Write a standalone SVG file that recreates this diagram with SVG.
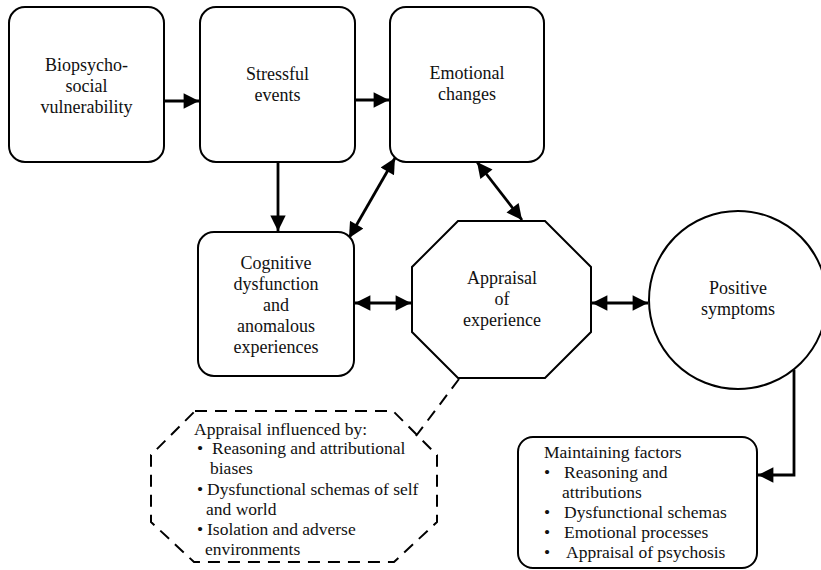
<svg xmlns="http://www.w3.org/2000/svg" width="821" height="570" viewBox="0 0 821 570">
<style>
.t{font-size:18px;text-anchor:middle;fill:#111}
.l{font-size:17.5px;fill:#111}
.n{fill:#fff;stroke:#000;stroke-width:2}
.c{fill:none;stroke:#000;stroke-width:2.8}
.d{fill:none;stroke:#000;stroke-width:2;stroke-dasharray:12,8}
</style>
<defs>
<marker id="ah" viewBox="0 0 10 10" refX="10" refY="5" markerWidth="5.8" markerHeight="5.5" orient="auto-start-reverse" markerUnits="strokeWidth">
<path d="M0,0 L10,5 L0,10 Z" fill="#000"/>
</marker>
</defs>
<rect width="821" height="570" fill="#fff"/>
<g id="connectors">
<line class="c" x1="164" y1="101" x2="199" y2="101" marker-end="url(#ah)"/>
<line class="c" x1="355" y1="100" x2="389" y2="100" marker-end="url(#ah)"/>
<line class="c" x1="278" y1="162" x2="278" y2="231" marker-end="url(#ah)"/>
<line class="c" x1="349" y1="238" x2="395" y2="158" marker-start="url(#ah)" marker-end="url(#ah)"/>
<line class="c" x1="477" y1="162" x2="522" y2="220" marker-start="url(#ah)" marker-end="url(#ah)"/>
<line class="c" x1="355" y1="303" x2="411" y2="303" marker-start="url(#ah)" marker-end="url(#ah)"/>
<line class="c" x1="592" y1="303" x2="648" y2="303" marker-start="url(#ah)" marker-end="url(#ah)"/>
<polyline class="c" points="794,370 794,475 758,475" marker-end="url(#ah)"/>
<line class="d" x1="459" y1="379" x2="416" y2="436" stroke-width="2.5"/>
</g>
<g font-family="Liberation Serif, Times New Roman, serif">
<g id="biopsychosocial">
<rect class="n" x="9" y="7" width="155" height="155" rx="16"/>
<text class="t" x="86.5" y="71">Biopsycho-</text>
<text class="t" x="86.5" y="92">social</text>
<text class="t" x="86.5" y="113">vulnerability</text>
</g>
<g id="stressful">
<rect class="n" x="200" y="7" width="155" height="155" rx="16"/>
<text class="t" x="277.5" y="80">Stressful</text>
<text class="t" x="277.5" y="101">events</text>
</g>
<g id="emotional">
<rect class="n" x="390" y="7" width="154" height="155" rx="16"/>
<text class="t" x="467" y="79">Emotional</text>
<text class="t" x="467" y="100">changes</text>
</g>
<g id="cognitive">
<rect class="n" x="198" y="232" width="156" height="144" rx="16"/>
<text class="t" x="276" y="269">Cognitive</text>
<text class="t" x="276" y="290">dysfunction</text>
<text class="t" x="276" y="311">and</text>
<text class="t" x="276" y="332">anomalous</text>
<text class="t" x="276" y="353">experiences</text>
</g>
<g id="appraisal">
<polygon class="n" points="458,221 545,221 591,267 591,332 545,378 458,378 412,332 412,267"/>
<text class="t" x="502" y="284">Appraisal</text>
<text class="t" x="502" y="305">of</text>
<text class="t" x="502" y="326">experience</text>
</g>
<g id="positive">
<circle class="n" cx="738" cy="300" r="89"/>
<text class="t" x="738" y="294">Positive</text>
<text class="t" x="738" y="315">symptoms</text>
</g>
<g id="influences">
<polygon class="d" points="195,411 393,411 437,455 437,522 394,562 194,562 151,522 151,455"/>
<text class="l" x="194" y="435">Appraisal influenced by:</text>
<text class="l" x="197" y="454">•</text>
<text class="l" x="212" y="454">Reasoning and attributional</text>
<text class="l" x="210" y="474">biases</text>
<text class="l" x="197" y="495">•</text>
<text class="l" x="207" y="495">Dysfunctional schemas of self</text>
<text class="l" x="206" y="515">and world</text>
<text class="l" x="197" y="535">•</text>
<text class="l" x="207" y="535">Isolation and adverse</text>
<text class="l" x="205" y="555">environments</text>
</g>
<g id="maintaining">
<rect class="n" x="518" y="437" width="239" height="131" rx="15"/>
<text class="l" x="544" y="458">Maintaining factors</text>
<text class="l" x="544" y="478">•</text>
<text class="l" x="564" y="478">Reasoning and</text>
<text class="l" x="562" y="498">attributions</text>
<text class="l" x="544" y="518">•</text>
<text class="l" x="564" y="518">Dysfunctional schemas</text>
<text class="l" x="544" y="538">•</text>
<text class="l" x="564" y="538">Emotional processes</text>
<text class="l" x="544" y="558">•</text>
<text class="l" x="566" y="558">Appraisal of psychosis</text>
</g>
</g>
</svg>
